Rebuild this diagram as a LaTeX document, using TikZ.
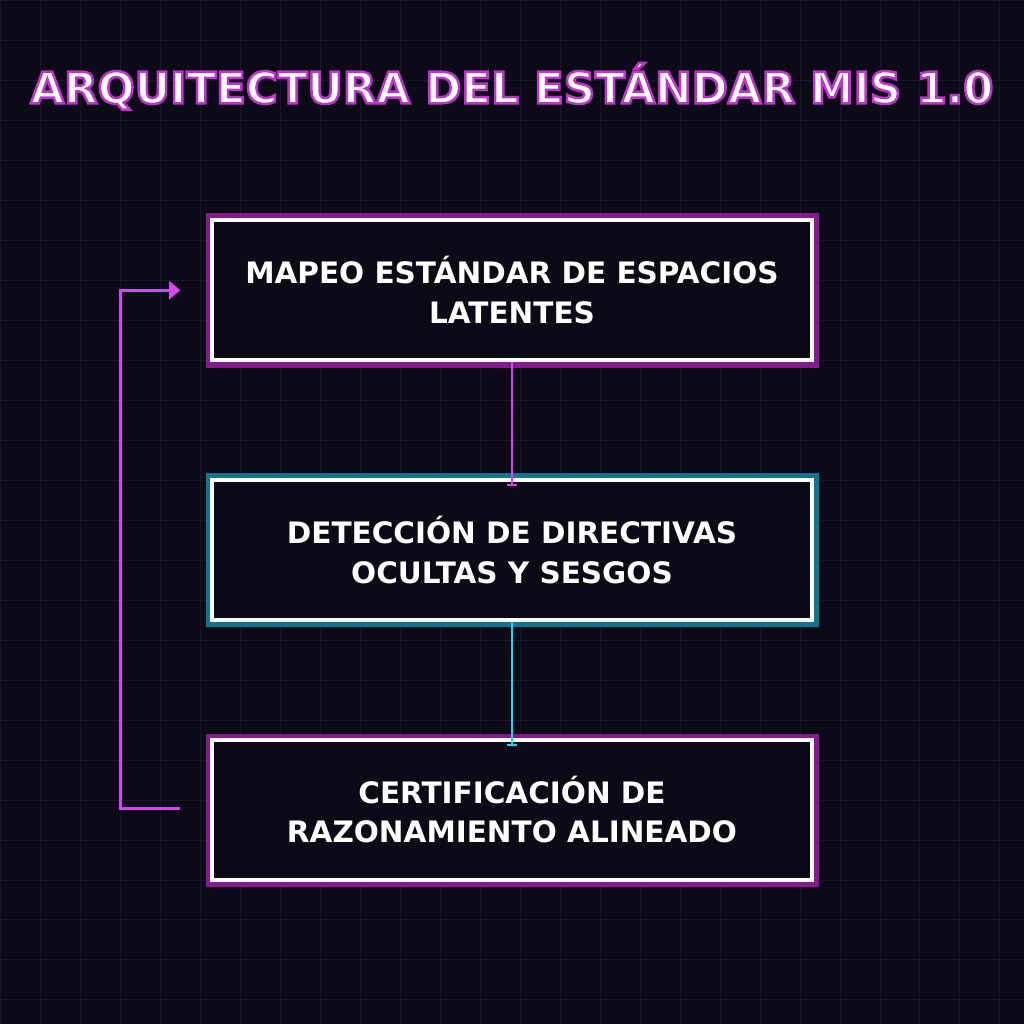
\documentclass[tikz,border=0pt]{standalone}
\usepackage{fontspec}
\setmainfont{DejaVu Sans}
\usetikzlibrary{arrows.meta}
\definecolor{bgcol}{HTML}{0B0B18}
\definecolor{gridcol}{HTML}{17162A}
\definecolor{neonpink}{HTML}{D946EF}
\definecolor{neoncyan}{HTML}{22D3EE}
\definecolor{glowpink}{HTML}{86198F}
\definecolor{glowcyan}{HTML}{0E7490}
\newcommand{\glowtext}[1]{\special{pdf:literal q 2 Tr 1.8 w 0.75 0.2 0.8 RG}#1\special{pdf:literal Q}}
\tikzset{
  stage/.style={draw=white, line width=2.8pt, fill=bgcol, minimum width=15cm,
    minimum height=3.5cm, align=center, text=white, font=\bfseries\fontsize{21}{28}\selectfont},
  link/.style={line width=2pt, -{Bar[width=7pt,line width=1.5pt]}},
}
\begin{document}
\begin{tikzpicture}[x=0.025cm, y=-0.025cm]
  \fill[bgcol] (0,0) rectangle (1024,1024);
  \draw[gridcol, line width=0.6pt, step=1cm] (0,0) grid (1024,1024);
  % glows
  \draw[glowpink, line width=4pt] (209,216) rectangle (816,365);
  \draw[glowcyan, line width=4pt] (209,476) rectangle (816,624);
  \draw[glowpink, line width=4pt] (209,737) rectangle (816,884);
  \node[stage, name=map] at (512,290) {MAPEO ESTÁNDAR DE ESPACIOS\\LATENTES};
  \node[stage, name=detect] at (512,550) {DETECCIÓN DE DIRECTIVAS\\OCULTAS Y SESGOS};
  \node[stage, name=cert] at (512,810) {CERTIFICACIÓN DE\\RAZONAMIENTO ALINEADO};
  \coordinate (loopin) at (180,809);
  \coordinate (loopout) at (180,290);
  \draw[link, neonpink] (map.south) -- ([yshift=-6pt]detect.north);
  \draw[link, neoncyan] (detect.south) -- ([yshift=-6pt]cert.north);
  \draw[neonpink, line width=2pt, -{Triangle[length=8pt,width=13pt]}]
    (loopin) -- (120,809) -- (120,290) -- (loopout);
  % title
  \node[name=title, text=white, font=\bfseries\fontsize{31}{38}\selectfont] at (512,86) {\glowtext{ARQUITECTURA DEL ESTÁNDAR MIS 1.0}};
\end{tikzpicture}
\end{document}
